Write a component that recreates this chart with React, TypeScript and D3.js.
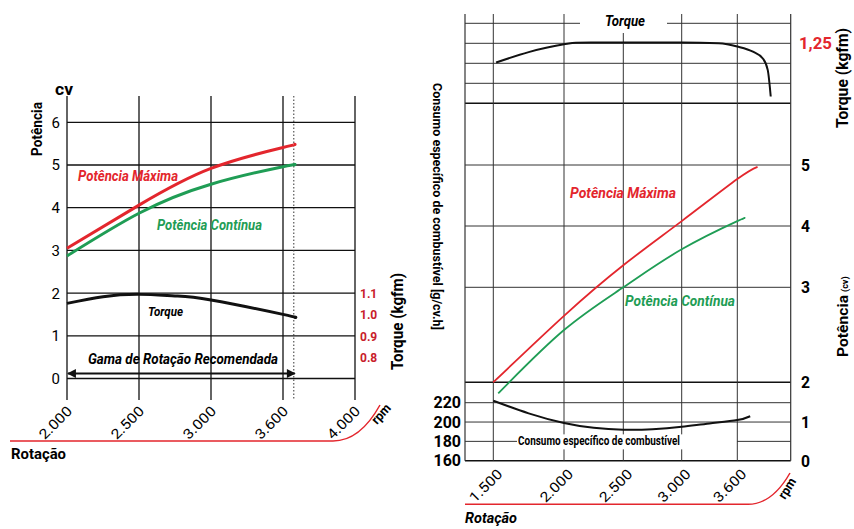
import React from "react";
import * as d3 from "d3";

// ---- left chart data (rpm / cv / kgfm) ----
const leftTicks = [2000, 2500, 3000, 3600, 4000];
const leftTickLabels = ["2.000", "2.500", "3.000", "3.600", "4.000"];
const leftPowerTicks = [0, 1, 2, 3, 4, 5, 6];
const leftTorqueTicks = ["1.1", "1.0", "0.9", "0.8"];
const leftRpm = [2000, 2500, 3000, 3600, 3660];
const leftPotMax = [3.05, 4.06, 4.92, 5.41, 5.48];
const leftPotCont = [2.87, 3.87, 4.55, 4.96, 5.0];
const leftTorqueRpm = [2000, 2250, 2500, 2750, 3000, 3600, 3660];
const leftTorque = [1.053, 1.084, 1.095, 1.088, 1.069, 1.002, 0.988];
const leftRangeEnd = 3660;

// ---- right chart data ----
const rightTicks = [1500, 2000, 2500, 3000, 3600];
const rightTickLabels = ["1.500", "2.000", "2.500", "3.000", "3.600"];
const rightPowerTicks = [0, 1, 2, 3, 4, 5];
const rightConsTicks = [160, 180, 200, 220];
const torqueRpm = [1520, 1750, 2000, 2100, 2500, 3000, 3400, 3600, 3770, 3877, 3931, 3963];
const torqueVal = [1.202, 1.228, 1.2475, 1.2515, 1.252, 1.252, 1.25, 1.242, 1.229, 1.212, 1.183, 1.117];
const potMaxRpm = [1500, 2000, 2500, 3000, 3600, 3820];
const potMax = [2.0, 2.7, 3.36, 4.08, 4.77, 4.97];
const potContRpm = [1535, 2000, 2500, 3000, 3600, 3650];
const potCont = [1.72, 2.55, 3.0, 3.62, 4.08, 4.11];
const consRpm = [1500, 1750, 2000, 2250, 2500, 2750, 3000, 3300, 3600, 3740];
const consVal = [222, 209, 199, 194, 192, 192.5, 195, 198.5, 202, 206];

const FONT = "Roboto, 'Liberation Sans', Arial, sans-serif";
const RED = "#e3262d";
const GREEN = "#1f9d55";
const DARKRED = "#c8202a";

export default function App() {
  // left scales (tick spacing on the original is even, so piecewise)
  const lx = d3.scaleLinear().domain(leftTicks).range([67, 139, 211, 283, 355]);
  const ly = d3.scaleLinear().domain([0, 6]).range([378.5, 122.3]);
  const lt = d3.scaleLinear().domain([0.8, 1.1]).range([357.8, 293.3]);

  // right scales
  const rx = d3
    .scaleLinear()
    .domain([1300, 1500, 2000, 2500, 3000, 3600, 4180])
    .range([465, 493.3, 564, 623.3, 681.7, 737.3, 790.7]);
  const rt = d3.scaleLinear().domain([1.1, 1.3]).range([103.3, 23.3]);
  const rp = d3
    .scaleLinear()
    .domain([0, 1, 2, 3, 4, 5])
    .range([460.7, 421.7, 382.3, 287.3, 226, 165]);
  const rc = d3.scaleLinear().domain([160, 220]).range([460.7, 402.7]);

  const mk = (xs: number[], ys: number[], sx: any, sy: any, curve: any = d3.curveNatural) =>
    d3
      .line<number>()
      .x((_, i) => sx(xs[i]))
      .y((d) => sy(d))
      .curve(curve)(ys) as string;

  const rL = 465;
  const rR = 790.7;

  return (
    <svg
      width={854}
      height={529}
      style={{ position: "absolute", left: 0, top: 0, background: "#fff" }}
      fontFamily={FONT}
    >
      {/* ===== LEFT CHART ===== */}
      <g>
        {leftPowerTicks.map((t) => (
          <g key={t}>
            <line x1={lx(2000)} x2={lx(4000)} y1={ly(t)} y2={ly(t)} stroke="#111" strokeWidth={1.3} />
            <text x={60} y={ly(t)} dy="0.36em" textAnchor="end" fontSize={15}>
              {t}
            </text>
          </g>
        ))}
        {leftTicks.map((t, i) => (
          <g key={t}>
            <line x1={lx(t)} x2={lx(t)} y1={96} y2={400} stroke="#111" strokeWidth={1.3} />
            <text
              transform={`translate(${lx(t) + 6},${412}) rotate(-45)`}
              textAnchor="end"
              fontSize={14}
              textLength={40}
              lengthAdjust="spacingAndGlyphs"
            >
              {leftTickLabels[i]}
            </text>
          </g>
        ))}
        <line
          x1={lx(leftRangeEnd)}
          x2={lx(leftRangeEnd)}
          y1={96}
          y2={400}
          stroke="#333"
          strokeWidth={1}
          strokeDasharray="1.5,2"
        />
        <path d={mk(leftRpm, leftPotMax, lx, ly)} fill="none" stroke={RED} strokeWidth={3} />
        <path d={mk(leftRpm, leftPotCont, lx, ly)} fill="none" stroke={GREEN} strokeWidth={3} />
        <path d={mk(leftTorqueRpm, leftTorque, lx, lt)} fill="none" stroke="#111" strokeWidth={3} />

        <text x={78} y={181} fill={RED} fontSize={14} fontWeight="bold" fontStyle="italic" textLength={100} lengthAdjust="spacingAndGlyphs">
          Potência Máxima
        </text>
        <text x={157} y={230} fill={GREEN} fontSize={14} fontWeight="bold" fontStyle="italic" textLength={105} lengthAdjust="spacingAndGlyphs">
          Potência Contínua
        </text>
        <text x={148} y={316} fontSize={12} fontWeight="bold" fontStyle="italic" textLength={35} lengthAdjust="spacingAndGlyphs">
          Torque
        </text>

        {/* recommended range arrow */}
        <defs>
          <marker id="ah" viewBox="0 0 10 10" refX={9} refY={5} markerWidth={5.5} markerHeight={4} orient="auto-start-reverse">
            <path d="M0,0 L10,5 L0,10 z" fill="#111" />
          </marker>
        </defs>
        <line
          x1={lx(2000) + 1}
          x2={lx(leftRangeEnd) + 1}
          y1={373.5}
          y2={373.5}
          stroke="#111"
          strokeWidth={2.2}
          markerStart="url(#ah)"
          markerEnd="url(#ah)"
        />
        <text x={88} y={364} fontSize={14} fontWeight="bold" fontStyle="italic" textLength={190} lengthAdjust="spacingAndGlyphs">
          Gama de Rotação Recomendada
        </text>

        {leftTorqueTicks.map((t) => (
          <text key={t} x={360} y={lt(+t)} dy="0.36em" fill={DARKRED} fontSize={12} fontWeight="bold">
            {t}
          </text>
        ))}
        <text transform="translate(403,370) rotate(-90)" fontSize={16} fontWeight="bold" textLength={97} lengthAdjust="spacingAndGlyphs">
          Torque (kgfm)
        </text>
        <text x={55} y={95} fontSize={17} fontWeight="bold" textLength={18} lengthAdjust="spacingAndGlyphs">
          cv
        </text>
        <text transform="translate(42,156) rotate(-90)" fontSize={15} fontWeight="bold" textLength={54} lengthAdjust="spacingAndGlyphs">
          Potência
        </text>

        <path d="M10,441 L333,441 Q360,441 380,405" fill="none" stroke={RED} strokeWidth={1.5} />
        <text transform="translate(377,425) rotate(-48)" fontSize={13} fontWeight="bold" textLength={22} lengthAdjust="spacingAndGlyphs">
          rpm
        </text>
        <text x={11} y={459} fontSize={15} fontWeight="bold" textLength={55} lengthAdjust="spacingAndGlyphs">
          Rotação
        </text>
      </g>

      {/* ===== RIGHT CHART ===== */}
      <g>
        {/* torque section */}
        <line x1={rL} x2={580} y1={rt(1.3)} y2={rt(1.3)} stroke="#333" strokeWidth={1} />
        <line x1={667} x2={rR} y1={rt(1.3)} y2={rt(1.3)} stroke="#333" strokeWidth={1} />
        {[1.25, 1.2, 1.15].map((t) => (
          <line key={t} x1={rL} x2={rR} y1={rt(t)} y2={rt(t)} stroke="#333" strokeWidth={1} />
        ))}
        <line x1={rL} x2={rR} y1={rt(1.1)} y2={rt(1.1)} stroke="#111" strokeWidth={1.6} />

        {/* power section */}
        {[3, 4, 5].map((t) => (
          <line key={t} x1={rL} x2={rR} y1={rp(t)} y2={rp(t)} stroke="#333" strokeWidth={1} />
        ))}
        <line x1={rL} x2={rR} y1={rp(2)} y2={rp(2)} stroke="#111" strokeWidth={1.6} />

        {/* consumption section */}
        {rightConsTicks.map((t) =>
          t === 180 ? (
            <g key={t}>
              <line x1={rL} x2={517} y1={rc(t)} y2={rc(t)} stroke="#333" strokeWidth={1} />
              <line x1={737} x2={rR} y1={rc(t)} y2={rc(t)} stroke="#333" strokeWidth={1} />
            </g>
          ) : (
            <line key={t} x1={rL} x2={rR} y1={rc(t)} y2={rc(t)} stroke={t === 160 ? "#111" : "#333"} strokeWidth={t === 160 ? 1.6 : 1} />
          )
        )}

        {/* verticals */}
        <line x1={rL} x2={rL} y1={14} y2={rc(160)} stroke="#333" strokeWidth={1.2} />
        <line x1={rR} x2={rR} y1={14} y2={rc(160)} stroke="#333" strokeWidth={1.2} />
        {rightTicks.map((t, i) => (
          <g key={t}>
            <line
              x1={rx(t)}
              x2={rx(t)}
              y1={t === 2500 ? 33 : 14}
              y2={t === 1500 || t === 3600 ? rc(160) : rc(180) - 7}
              stroke="#333"
              strokeWidth={1}
            />
            {t !== 1500 && t !== 3600 && (
              <line x1={rx(t)} x2={rx(t)} y1={rc(180) + 8} y2={rc(160)} stroke="#333" strokeWidth={1} />
            )}
            <text
              transform={`translate(${rx(t) + 10},${475}) rotate(-45)`}
              textAnchor="end"
              fontSize={14}
              textLength={40}
              lengthAdjust="spacingAndGlyphs"
            >
              {rightTickLabels[i]}
            </text>
          </g>
        ))}

        <text x={605} y={26} fontSize={14} fontWeight="bold" fontStyle="italic" textLength={40} lengthAdjust="spacingAndGlyphs">
          Torque
        </text>

        <path d={mk(torqueRpm, torqueVal, rx, rt, d3.curveMonotoneX)} fill="none" stroke="#111" strokeWidth={2} />
        <path d={mk(potMaxRpm, potMax, rx, rp)} fill="none" stroke={RED} strokeWidth={1.8} />
        <path d={mk(potContRpm, potCont, rx, rp)} fill="none" stroke={GREEN} strokeWidth={1.8} />
        <path d={mk(consRpm, consVal, rx, rc)} fill="none" stroke="#111" strokeWidth={2} />

        <text x={570} y={198} fill={RED} fontSize={14} fontWeight="bold" fontStyle="italic" textLength={106} lengthAdjust="spacingAndGlyphs">
          Potência Máxima
        </text>
        <text x={625} y={306} fill={GREEN} fontSize={14} fontWeight="bold" fontStyle="italic" textLength={110} lengthAdjust="spacingAndGlyphs">
          Potência Contínua
        </text>
        <text x={518} y={445} fontSize={12} fontWeight="bold" textLength={162} lengthAdjust="spacingAndGlyphs">
          Consumo específico de combustível
        </text>

        {/* axis labels */}
        {rightConsTicks.map((t) => (
          <text key={t} x={461} y={rc(t)} dy="0.36em" textAnchor="end" fontSize={16} fontWeight="bold">
            {t}
          </text>
        ))}
        {rightPowerTicks.map((t) => (
          <text key={t} x={801} y={rp(t)} dy="0.36em" fontSize={17} fontWeight="bold" textLength={9} lengthAdjust="spacingAndGlyphs">
            {t}
          </text>
        ))}
        <text x={799} y={rt(1.25)} dy="0.36em" fill={RED} fontSize={17} fontWeight="bold" textLength={33} lengthAdjust="spacingAndGlyphs">
          1,25
        </text>
        <text transform="translate(848,128) rotate(-90)" fontSize={16} fontWeight="bold" textLength={100} lengthAdjust="spacingAndGlyphs">
          Torque (kgfm)
        </text>
        <text transform="translate(848,357) rotate(-90)" fontSize={15} fontWeight="bold">
          <tspan textLength={62} lengthAdjust="spacingAndGlyphs">Potência</tspan>
          <tspan fontSize={9} dx={3}>(cv)</tspan>
        </text>
        <text transform="translate(433,83) rotate(90)" fontSize={13} fontWeight="bold" textLength={247} lengthAdjust="spacingAndGlyphs">
          Consumo específico de combustível [g/cv.h]
        </text>

        <path d={`M${rL},504.3 L748,504.3 Q772,504.3 790,473`} fill="none" stroke={RED} strokeWidth={1.5} />
        <text transform="translate(785,500) rotate(-58)" fontSize={13} fontWeight="bold" textLength={22} lengthAdjust="spacingAndGlyphs">
          rpm
        </text>
        <text x={465} y={523} fontSize={15} fontWeight="bold" fontStyle="italic" textLength={52} lengthAdjust="spacingAndGlyphs">
          Rotação
        </text>
      </g>
    </svg>
  );
}
